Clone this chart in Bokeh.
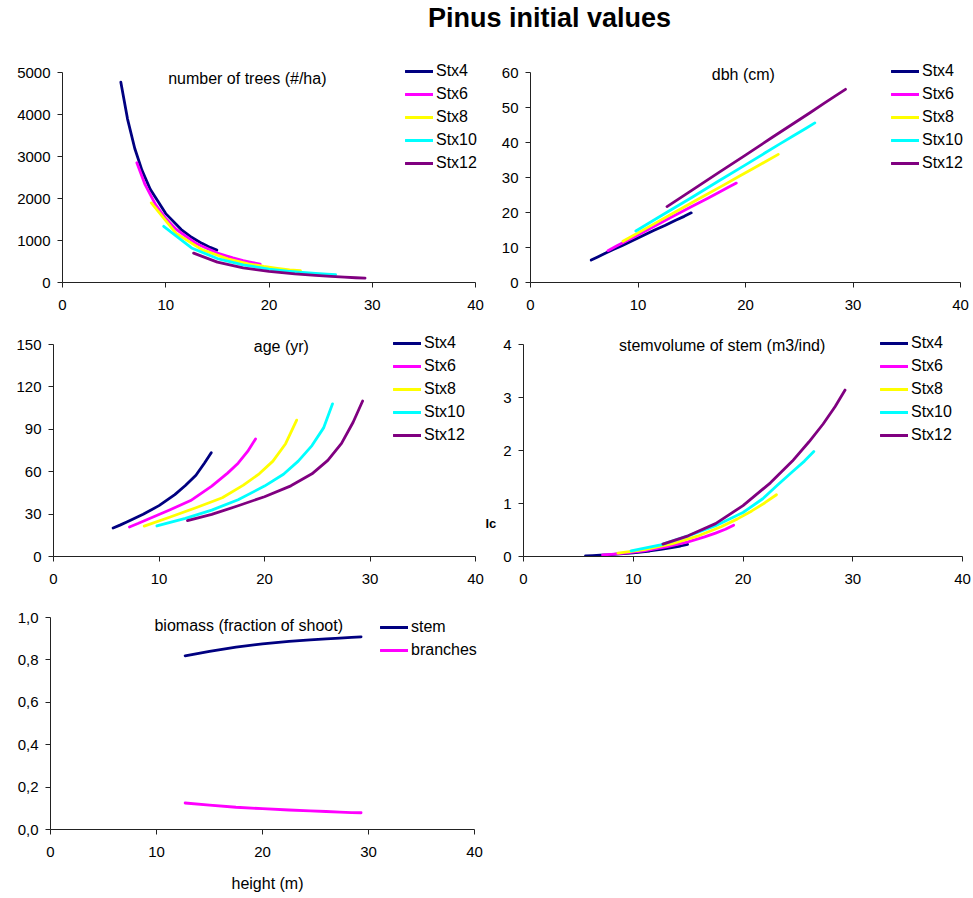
from bokeh.plotting import figure
from bokeh.models import Range1d, Label, Legend, LegendItem, FixedTicker, Div
from bokeh.layouts import column, row
from bokeh.embed import file_html
from bokeh.resources import INLINE

FONT = "Liberation Sans"

# ---------------- data ----------------
title_text = "Pinus initial values"
series_names = ["Stx4", "Stx6", "Stx8", "Stx10", "Stx12"]
series_colors = ["#000080", "#FF00FF", "#FFFF00", "#00FFFF", "#800080"]

# height (m) per stand class
h_stx4 = [5.65, 6.3, 7, 7.7, 8.5, 10, 11.5, 12.5, 13.5, 14.3, 14.95]
h_stx6 = [7.2, 8.0, 9, 10, 11, 13, 15, 16.5, 17.5, 18.4, 19.15]
h_stx8 = [8.6, 11, 13.5, 16, 18, 19.5, 20.8, 22, 23.05]
h_stx10 = [9.8, 12.5, 15, 17.5, 20, 21.8, 23.2, 24.5, 25.6, 26.45]
h_stx12 = [12.7, 15, 17.5, 20, 22.5, 24.5, 26, 27.3, 28.4, 29.3]

# number of trees (#/ha)
n_stx4 = [4770, 3890, 3190, 2670, 2220, 1640, 1260, 1077, 932, 836, 770]
n_stx6 = [2850, 2330, 1860, 1522, 1268, 921, 701, 585, 523, 475, 438]
n_stx8 = [1895, 1170, 783, 562, 445, 381, 336, 301, 280]
n_stx10 = [1338, 822, 571, 420, 321, 270, 239, 214, 196, 184]
n_stx12 = [700, 485, 350, 265, 205, 170, 145, 126, 113, 104]

# dbh (cm)
d_stx4 = [6.4, 7.35, 8.4, 9.4, 10.5, 12.7, 14.9, 16.3, 17.8, 18.9, 19.9]
d_stx6 = [9.1, 10.4, 12.0, 13.6, 15.2, 18.5, 21.7, 24.1, 25.7, 27.2, 28.4]
d_stx8 = [11.8, 15.9, 20.2, 24.5, 27.9, 30.5, 32.7, 34.8, 36.6]
d_stx10 = [14.7, 19.7, 24.3, 29.0, 33.6, 37.0, 39.6, 42.0, 44.0, 45.6]
d_stx12 = [21.7, 26.3, 31.4, 36.4, 41.5, 45.5, 48.5, 51.2, 53.4, 55.2]

# age (yr)
a_stx4 = [20.2, 22.2, 24.6, 27.1, 29.9, 36.0, 43.8, 50.2, 57.5, 66, 73.4]
a_stx6 = [20.9, 23.3, 26.5, 29.7, 32.9, 39.6, 49.8, 59, 66, 74.3, 83.2]
a_stx8 = [21.5, 27.8, 34.5, 41.6, 50.5, 58.5, 67.5, 79.8, 96.5]
a_stx10 = [21.6, 27, 32.8, 40.2, 49.8, 58.2, 67.5, 78.5, 91, 108]
a_stx12 = [25.4, 29.8, 35.9, 42.3, 50, 58.5, 68, 80, 95, 110]

# stem volume (m3/ind)
v_stx4 = [0.013, 0.018, 0.024, 0.032, 0.043, 0.069, 0.104, 0.133, 0.167, 0.198, 0.23]
v_stx6 = [0.03, 0.041, 0.059, 0.081, 0.108, 0.18, 0.277, 0.37, 0.442, 0.515, 0.59]
v_stx8 = [0.063, 0.131, 0.239, 0.395, 0.561, 0.71, 0.86, 1.015, 1.165]
v_stx10 = [0.107, 0.219, 0.39, 0.58, 0.83, 1.09, 1.36, 1.6, 1.8, 1.98]
v_stx12 = [0.233, 0.39, 0.62, 0.96, 1.39, 1.8, 2.16, 2.5, 2.83, 3.14]

# biomass fractions (Stx12 heights)
bio_names = ["stem", "branches"]
bio_colors = ["#000080", "#FF00FF"]
bio_stem = [0.819, 0.840, 0.860, 0.876, 0.887, 0.894, 0.899, 0.903, 0.906, 0.909]
bio_branches = [0.125, 0.115, 0.105, 0.098, 0.092, 0.088, 0.085, 0.082, 0.080, 0.079]

x_ticks = [0, 10, 20, 30, 40]
y_ticks_trees = [0, 1000, 2000, 3000, 4000, 5000]
y_ticks_dbh = [0, 10, 20, 30, 40, 50, 60]
y_ticks_age = [0, 30, 60, 90, 120, 150]
y_ticks_vol = [0, 1, 2, 3, 4]
y_ticks_bio = [0.0, 0.2, 0.4, 0.6, 0.8, 1.0]
y_labels_bio = ["0,0", "0,2", "0,4", "0,6", "0,8", "1,0"]

heights = [h_stx4, h_stx6, h_stx8, h_stx10, h_stx12]


def make_fig(fig_w, fig_h, ax_l, ax_r, ax_t, ax_b, fr_r, fr_t, ymax, yticks):
    """Geometry in px relative to the figure's top-left corner.
    The frame is larger than the axes so that legend/titles are not clipped;
    axis lines are limited with bounds."""
    xpx = (ax_r - ax_l) / 40.0
    ypx = (ax_b - ax_t) / float(ymax)
    x_end = 40 + (fr_r - ax_r) / xpx
    y_end = ymax + (ax_t - fr_t) / ypx
    p = figure(frame_width=fr_r - ax_l, frame_height=ax_b - fr_t,
               min_border_left=ax_l, min_border_right=fig_w - fr_r,
               min_border_top=fr_t, min_border_bottom=fig_h - ax_b,
               x_range=Range1d(0, x_end), y_range=Range1d(0, y_end),
               output_backend="svg", toolbar_location=None)
    p.grid.visible = False
    p.outline_line_color = None
    p.xaxis.ticker = FixedTicker(ticks=x_ticks)
    p.yaxis.ticker = FixedTicker(ticks=yticks)
    p.xaxis.bounds = (0, 40)
    p.yaxis.bounds = (0, ymax)
    for ax in p.axis:
        ax.axis_line_color = "#222222"
        ax.major_tick_line_color = "#222222"
        ax.major_tick_out = 5
        ax.major_tick_in = 0
        ax.minor_tick_line_color = None
        ax.major_label_text_font = FONT
        ax.major_label_text_font_size = "15px"
        ax.major_label_text_color = "black"
    p.yaxis.major_label_standoff = 7
    p.xaxis.major_label_standoff = 12
    return p


def add_lines(p, xs_list, ys_list, names, colors, loc):
    items = []
    for xs, ys, nm, c in zip(xs_list, ys_list, names, colors):
        r = p.line(xs, ys, line_color=c, line_width=2.8, line_join="round",
                   line_cap="round")
        items.append(LegendItem(label=nm, renderers=[r]))
    lg = Legend(items=items, location=loc, border_line_color=None,
                background_fill_alpha=0, padding=0, margin=0, spacing=5,
                glyph_width=28, glyph_height=16, label_height=16,
                label_standoff=3, label_text_font=FONT,
                label_text_font_size="16px", label_text_color="black")
    p.add_layout(lg)


def subtitle(p, x, y, txt):
    p.add_layout(Label(x=x, y=y, text=txt, text_align="center",
                       text_baseline="middle", text_font=FONT,
                       text_font_size="16px", text_color="black"))


# title strip
pt = Div(text=('<div style="margin-left:428px; margin-top:5px; '
               'font-family:\'Liberation Sans\', Arial, sans-serif; '
               'font-size:27px; font-weight:bold; line-height:27px; '
               'white-space:nowrap; color:black">' + title_text + '</div>'),
         width=972, height=50, margin=0)

# panel 1: number of trees
p1 = make_fig(485, 270, 62, 475, 22, 232, 484, 5, 5000, y_ticks_trees)
add_lines(p1, heights, [n_stx4, n_stx6, n_stx8, n_stx10, n_stx12],
          series_names, series_colors, (343, 110))
subtitle(p1, 17.9, 4857, "number of trees (#/ha)")

# panel 2: dbh
p2 = make_fig(487, 270, 45, 475, 22, 232, 486, 5, 60, y_ticks_dbh)
add_lines(p2, heights, [d_stx4, d_stx6, d_stx8, d_stx10, d_stx12],
          series_names, series_colors, (361, 110))
subtitle(p2, 19.8, 59.4, "dbh (cm)")

# panel 3: age (frame widened so the stray "lc" text fits)
p3 = make_fig(500, 270, 53, 475, 24, 236, 499, 5, 150, y_ticks_age)
add_lines(p3, heights, [a_stx4, a_stx6, a_stx8, a_stx10, a_stx12],
          series_names, series_colors, (340, 112))
subtitle(p3, 21.6, 148.6, "age (yr)")
p3.add_layout(Label(x=432, y=33, x_units="screen", y_units="screen",
                    text="lc", text_font=FONT, text_font_size="13px",
                    text_font_style="bold", text_color="black",
                    text_baseline="alphabetic"))

# panel 4: stem volume
p4 = make_fig(472, 270, 21, 460, 24, 236, 471, 5, 4, y_ticks_vol)
add_lines(p4, heights, [v_stx4, v_stx6, v_stx8, v_stx10, v_stx12],
          series_names, series_colors, (357, 112))
subtitle(p4, 18.1, 3.98, "stemvolume of stem (m3/ind)")

# panel 5: biomass
p5 = make_fig(485, 306, 50, 474, 27, 239, 484, 5, 1.0, y_ticks_bio)
p5.yaxis.major_label_overrides = dict(zip(y_ticks_bio, y_labels_bio))
add_lines(p5, [h_stx12, h_stx12], [bio_stem, bio_branches],
          bio_names, bio_colors, (330, 170))
subtitle(p5, 18.7, 0.962, "biomass (fraction of shoot)")
p5.xaxis.axis_label = "height (m)"
p5.xaxis.axis_label_text_font = FONT
p5.xaxis.axis_label_text_font_size = "16px"
p5.xaxis.axis_label_text_font_style = "normal"
p5.xaxis.axis_label_text_color = "black"
p5.xaxis.axis_label_standoff = 15

layout = column(pt, row(p1, p2), row(p3, p4), p5)

with open("out.html", "w") as f:
    f.write(file_html(layout, INLINE))
